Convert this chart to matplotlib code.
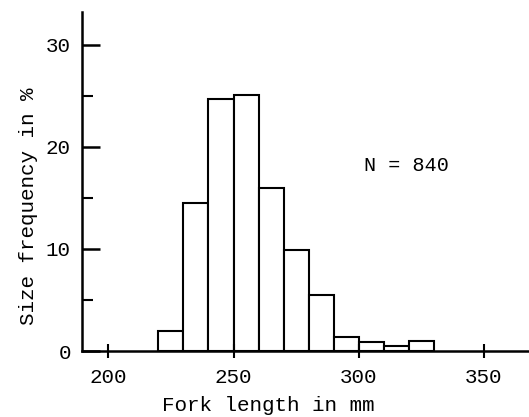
import matplotlib
matplotlib.use('Agg')
import matplotlib.pyplot as plt
from matplotlib.ticker import MultipleLocator

# 10 mm size classes (left edges) and frequency in %
bin_left = [220, 230, 240, 250, 260, 270, 280, 290, 300, 310, 320]
freq = [2.0, 14.5, 24.7, 25.1, 16.0, 9.9, 5.5, 1.4, 0.85, 0.5, 1.0]
bin_width = 10

x_ticks = [200, 250, 300, 350]
y_ticks = [0, 10, 20, 30]

plt.rcParams['font.family'] = ['Liberation Mono', 'DejaVu Sans Mono']

fig = plt.figure(figsize=(5.29, 4.17), dpi=100)
ax = fig.add_axes([0.155, 0.158, 0.845, 0.813])

ax.bar(bin_left, freq, width=bin_width, align='edge',
       facecolor='white', edgecolor='black', linewidth=1.5)

ax.set_xlim(189.5, 368)
ax.set_ylim(0, 33.2)

for side in ['top', 'right']:
    ax.spines[side].set_visible(False)
for side in ['left', 'bottom']:
    ax.spines[side].set_linewidth(1.8)

ax.set_xticks(x_ticks)
ax.set_yticks(y_ticks)
ax.yaxis.set_minor_locator(MultipleLocator(5))
ax.tick_params(axis='y', which='major', direction='in', length=13, width=1.8,
               labelsize=15, pad=8)
ax.tick_params(axis='y', which='minor', direction='in', length=8, width=1.5)
ax.tick_params(axis='x', which='major', direction='inout', length=10, width=1.5,
               labelsize=15, pad=7)

ax.set_xlabel('Fork length in mm', fontsize=15)
ax.set_ylabel('Size frequency in %', fontsize=15)
# labels sit a bit off-centre in the original
ax.xaxis.set_label_coords(0.417, -0.132)
ax.yaxis.set_label_coords(-0.098, 0.428)

ax.text(302, 18.2, 'N = 840', fontsize=14.5, va='center', ha='left')

fig.savefig('out.png', dpi=100)
